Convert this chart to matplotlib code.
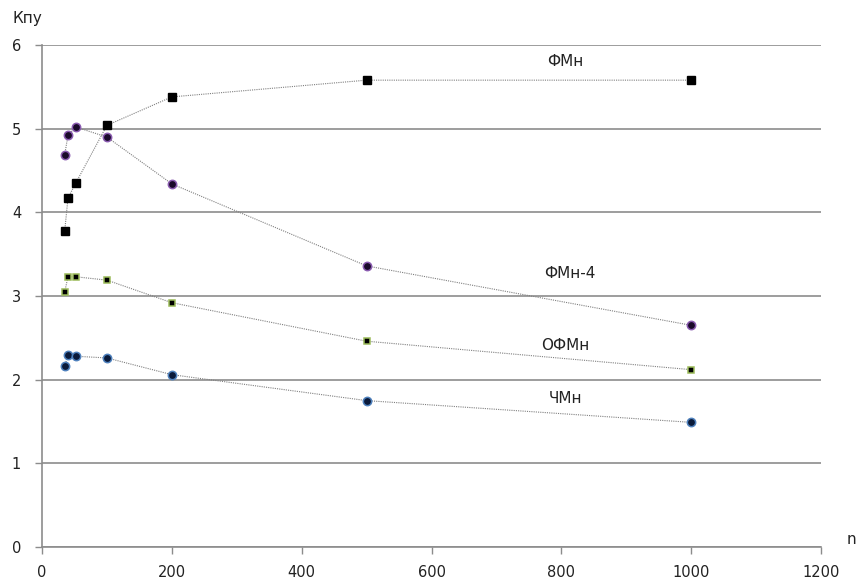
import numpy as np
import matplotlib.pyplot as plt

n = [35, 40, 52, 100, 200, 500, 1000]
fmn = [3.78, 4.17, 4.35, 5.04, 5.38, 5.58, 5.58]
fmn4 = [4.69, 4.92, 5.02, 4.90, 4.34, 3.36, 2.65]
ofmn = [3.05, 3.23, 3.23, 3.19, 2.92, 2.46, 2.12]
chmn = [2.16, 2.30, 2.28, 2.26, 2.06, 1.75, 1.49]

labels = ['ФМн', 'ФМн-4', 'ОФМн', 'ЧМн']
label_pos = [(806, 5.8), (813, 3.27), (806, 2.41), (806, 1.78)]

fig = plt.figure(figsize=(8.59, 5.87), dpi=100)
ax = fig.add_axes([0.0489, 0.0681, 0.9069, 0.8552])

line_kw = dict(color='#808080', linestyle=(0, (1, 1)), linewidth=0.8)
ax.plot(n, fmn, marker='s', markersize=5.5, markerfacecolor='black',
        markeredgecolor='black', **line_kw)
ax.plot(n, fmn4, marker='o', markersize=6, markerfacecolor='#1a0a2a',
        markeredgecolor='#8a5bb0', markeredgewidth=1.1, **line_kw)
ax.plot(n, ofmn, marker='s', markersize=4.8, markerfacecolor='black',
        markeredgecolor='#9bbb59', markeredgewidth=1.1, **line_kw)
ax.plot(n, chmn, marker='o', markersize=6, markerfacecolor='#0a1a3a',
        markeredgecolor='#4f81bd', markeredgewidth=1.1, **line_kw)

for t, (x, y) in zip(labels, label_pos):
    ax.text(x, y, t, fontsize=11, ha='center', va='center', color='#222222')

ax.set_xlim(0, 1200)
ax.set_ylim(0, 6)
ax.set_xticks(range(0, 1201, 200))
ax.set_yticks(range(0, 7))
ax.yaxis.grid(True, color='#8c8c8c', linewidth=1.2)
ax.set_axisbelow(True)
for s in ['top', 'right']:
    ax.spines[s].set_visible(False)
for s in ['left', 'bottom']:
    ax.spines[s].set_color('#8c8c8c')
    ax.spines[s].set_linewidth(1.2)
ax.tick_params(axis='both', colors='#8c8c8c', labelcolor='#222222',
               labelsize=10.5, length=5, width=1)
ax.tick_params(axis='x', pad=8)
ax.tick_params(axis='y', pad=10)

fig.text(27 / 859, 1 - 18 / 587, 'Кпу', fontsize=11, ha='center', va='center', color='#222222')
fig.text(851 / 859, 1 - 540 / 587, 'n', fontsize=11, ha='center', va='center', color='#222222')

fig.savefig('out.png', dpi=100)
